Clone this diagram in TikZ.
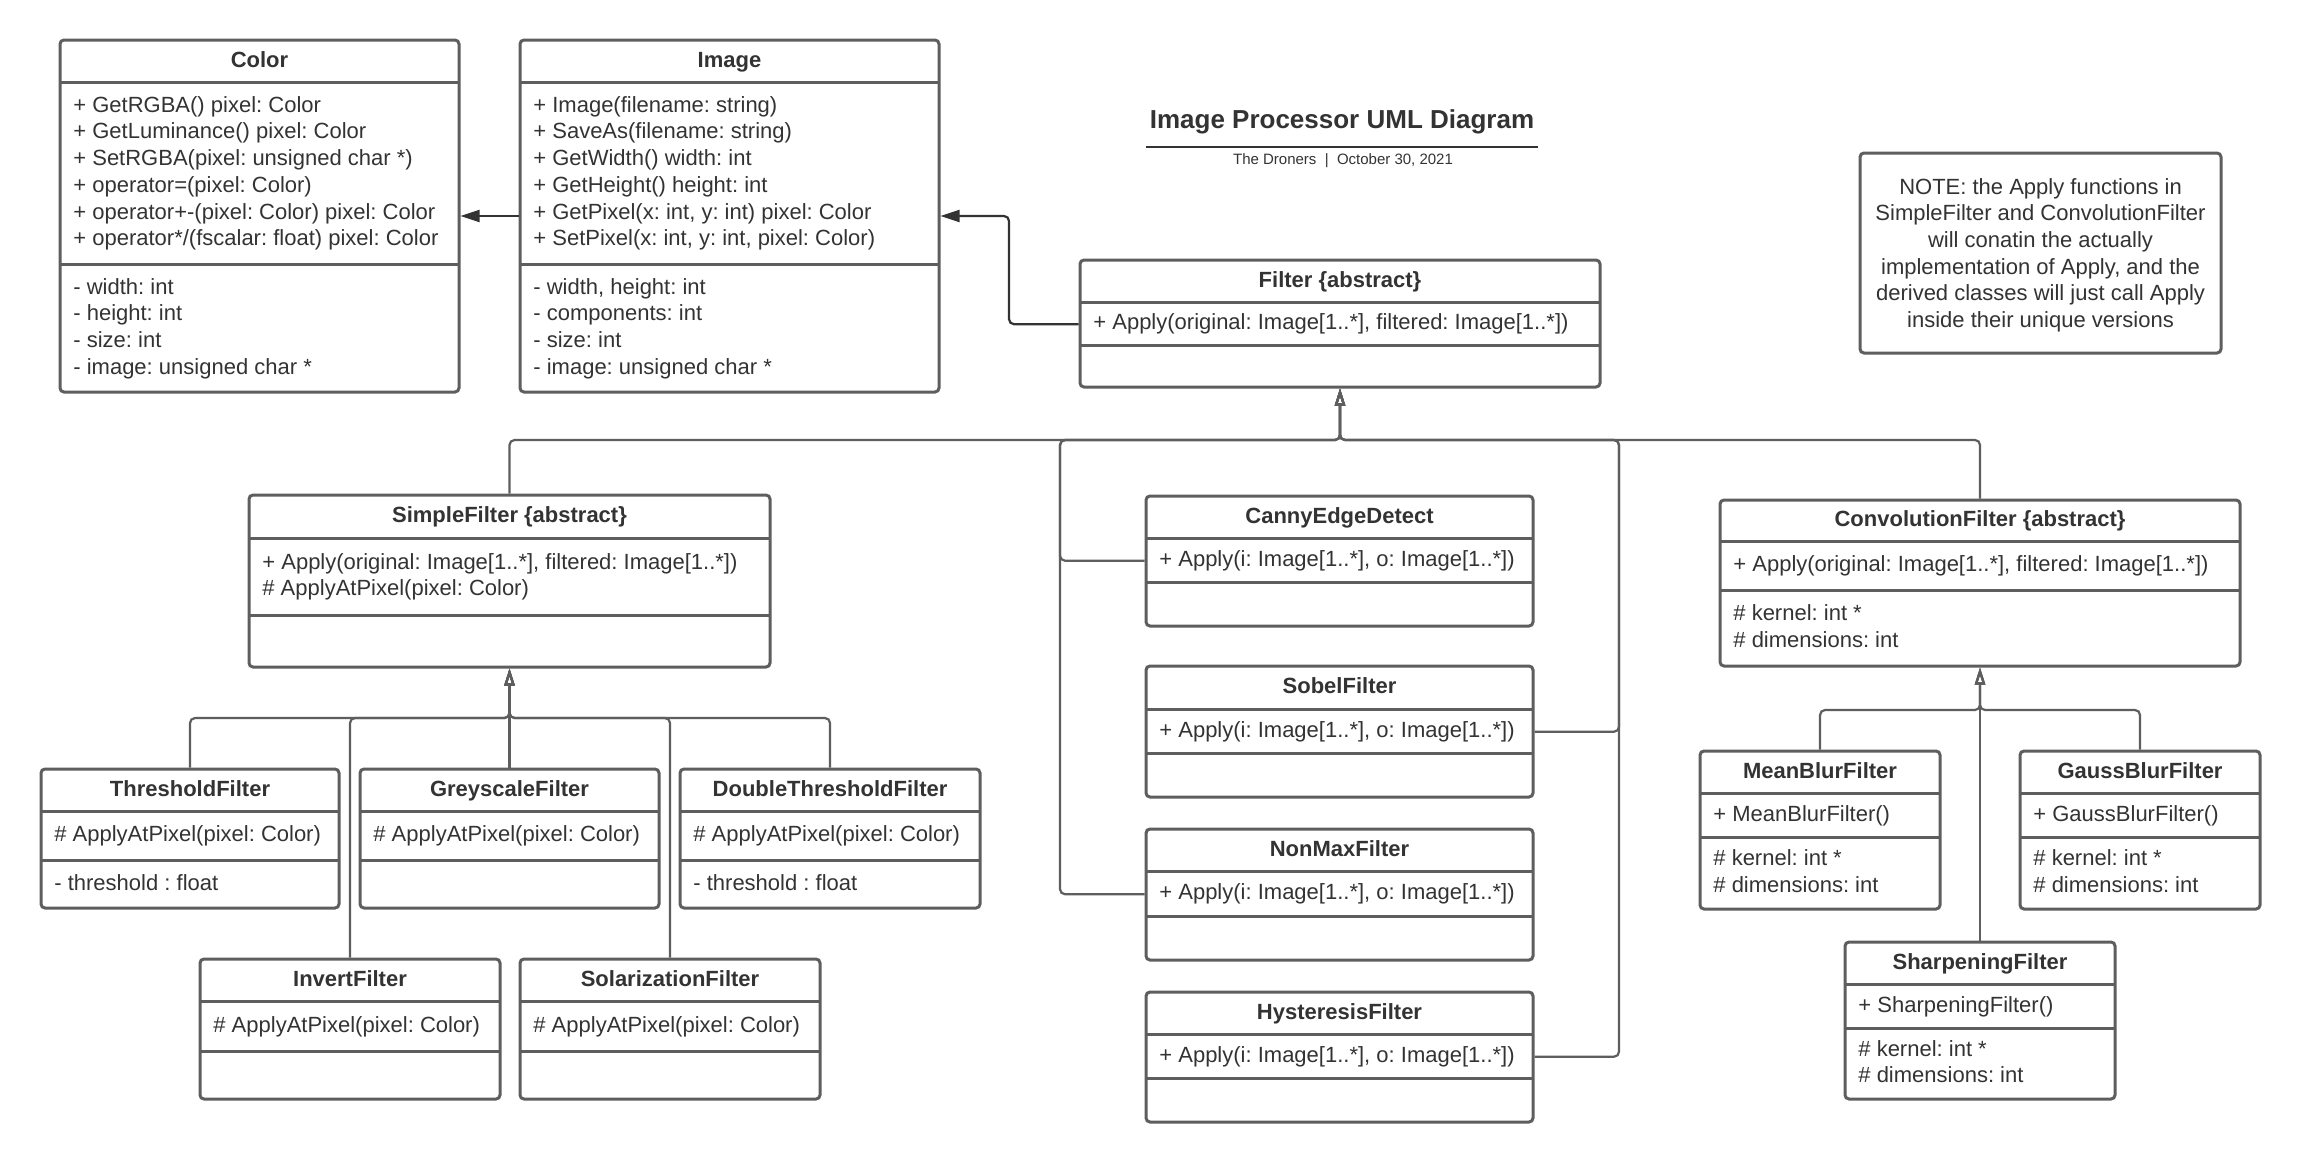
\documentclass[tikz,border=0pt]{standalone}
\usepackage{fontspec}
\setmainfont{Liberation Sans}
\usetikzlibrary{arrows.meta,fit}
\frenchspacing
\definecolor{linegray}{HTML}{5E5E5E}
\definecolor{textgray}{HTML}{333333}
\definecolor{darkline}{HTML}{333333}
\tikzset{
  classbox/.style={draw=linegray, line width=1.5pt, rounded corners=2pt, inner sep=0pt, fill=white},
  divider/.style={draw=linegray, line width=1.5pt},
  titletext/.style={font=\fontsize{11}{13.35}\selectfont\bfseries, text=textgray, inner sep=0pt, anchor=base},
  membtext/.style={font=\fontsize{11}{13.35}\selectfont, text=textgray, inner sep=0pt, align=left, anchor=base west},
  inh/.style={draw=linegray, line width=1.1pt, rounded corners=2.5pt, -{Triangle[open, length=8.5pt, width=5pt]}},
  assoc/.style={draw=darkline, line width=1.1pt, rounded corners=2.5pt, -{Triangle[length=9.5pt, width=6pt]}},
}
% #1 name, #2 x1, #3 y1, #4 x2, #5 y2, #6 divider1, #7 divider2, #8 title
\newcommand\umlclass[8]{%
  \node[classbox, fit={(#2,#3)(#4,#5)}] (#1) {};
  \draw[divider] (#2,#6) -- (#4,#6);
  \draw[divider] (#2,#7) -- (#4,#7);
  \node[titletext] (#1T) at ({(#2+#4)/2},{(#3+#6)/2+6}) {#8};
}
\begin{document}
\begin{tikzpicture}[x=0.5pt, y=-0.5pt]
\fill[white] (0,0) rectangle (2300,1162);
\useasboundingbox (0,0) rectangle (2300,1162);

% title
\node[font=\fontsize{13}{15}\selectfont\bfseries, text=textgray, inner sep=0pt, anchor=base] (title) at (1342,128) {Image Processor UML Diagram};
\draw[darkline, line width=1pt] (1146,147) -- (1538,147);
\node[font=\fontsize{7.5}{9}\selectfont, text=textgray, inner sep=0pt] (subtitle) at (1343,161) {The Droners~~|~~October 30, 2021};

% note (anchor = baseline of the last line)
\node[classbox, fit={(1860,153)(2221,353)}] (note) {};
\node[font=\fontsize{11}{13.35}\selectfont, text=textgray, inner sep=0pt, align=center, anchor=base] (noteT) at (2040.5,327.5) {NOTE: the Apply functions in\\SimpleFilter and ConvolutionFilter\\will conatin the actually\\implementation of Apply, and the\\derived classes will just call Apply\\inside their unique versions};

% Color
\umlclass{color}{60}{40}{459}{392}{82}{264}{Color}
\node[membtext] (colorM) at (73,245.75) {+ GetRGBA() pixel: Color\\+ GetLuminance() pixel: Color\\+ SetRGBA(pixel: unsigned char *)\\+ operator=(pixel: Color)\\+ operator+-(pixel: Color) pixel: Color\\+ operator*/(fscalar: float) pixel: Color};
\node[membtext] (colorA) at (73,374.1) {- width: int\\- height: int\\- size: int\\- image: unsigned char *};

% Image
\umlclass{image}{520}{40}{939}{392}{82}{264}{Image}
\node[membtext] (imageM) at (533,245.75) {+ Image(filename: string)\\+ SaveAs(filename: string)\\+ GetWidth() width: int\\+ GetHeight() height: int\\+ GetPixel(x: int, y: int) pixel: Color\\+ SetPixel(x: int, y: int, pixel: Color)};
\node[membtext] (imageA) at (533,374.1) {- width, height: int\\- components: int\\- size: int\\- image: unsigned char *};

% Filter
\umlclass{filter}{1080}{260}{1600}{387}{302}{345}{Filter \{abstract\}}
\node[membtext] (filterM) at (1093,329.5) {+ Apply(original: Image[1..*], filtered: Image[1..*])};

% SimpleFilter
\umlclass{simple}{249}{495}{770}{667}{538}{615}{SimpleFilter \{abstract\}}
\node[membtext] (simpleM) at (262,595.85) {+ Apply(original: Image[1..*], filtered: Image[1..*])\\\# ApplyAtPixel(pixel: Color)};

% Simple children
\umlclass{thresh}{41}{769}{339}{908}{811}{860}{ThresholdFilter}
\node[membtext] (threshM) at (54,841.5) {\# ApplyAtPixel(pixel: Color)};
\node[membtext] (threshA) at (54,890) {- threshold : float};

\umlclass{grey}{360}{769}{659}{908}{811}{860}{GreyscaleFilter}
\node[membtext] (greyM) at (373,841.5) {\# ApplyAtPixel(pixel: Color)};

\umlclass{dthresh}{680}{769}{980}{908}{811}{860}{DoubleThresholdFilter}
\node[membtext] (dthreshM) at (693,841.5) {\# ApplyAtPixel(pixel: Color)};
\node[membtext] (dthreshA) at (693,890) {- threshold : float};

\umlclass{invert}{200}{959}{500}{1099}{1001}{1051}{InvertFilter}
\node[membtext] (invertM) at (213,1032) {\# ApplyAtPixel(pixel: Color)};

\umlclass{solar}{520}{959}{820}{1099}{1001}{1051}{SolarizationFilter}
\node[membtext] (solarM) at (533,1032) {\# ApplyAtPixel(pixel: Color)};

% Edge detection classes
\umlclass{canny}{1146}{496}{1533}{626}{538}{582}{CannyEdgeDetect}
\node[membtext] (cannyM) at (1159,566) {+ Apply(i: Image[1..*], o: Image[1..*])};
\umlclass{sobel}{1146}{666}{1533}{797}{709}{753}{SobelFilter}
\node[membtext] (sobelM) at (1159,737) {+ Apply(i: Image[1..*], o: Image[1..*])};
\umlclass{nonmax}{1146}{829}{1533}{960}{871}{916}{NonMaxFilter}
\node[membtext] (nonmaxM) at (1159,899.5) {+ Apply(i: Image[1..*], o: Image[1..*])};
\umlclass{hyst}{1146}{992}{1533}{1122}{1034}{1078}{HysteresisFilter}
\node[membtext] (hystM) at (1159,1062) {+ Apply(i: Image[1..*], o: Image[1..*])};

% ConvolutionFilter
\umlclass{conv}{1720}{500}{2240}{666}{541}{590}{ConvolutionFilter \{abstract\}}
\node[membtext] (convM) at (1733,571.5) {+ Apply(original: Image[1..*], filtered: Image[1..*])};
\node[membtext] (convA) at (1733,647.35) {\# kernel: int *\\\# dimensions: int};

\umlclass{mean}{1700}{751}{1940}{909}{793}{837}{MeanBlurFilter}
\node[membtext] (meanM) at (1713,821) {+ MeanBlurFilter()};
\node[membtext] (meanA) at (1713,892.35) {\# kernel: int *\\\# dimensions: int};

\umlclass{gauss}{2020}{751}{2260}{909}{793}{837}{GaussBlurFilter}
\node[membtext] (gaussM) at (2033,821) {+ GaussBlurFilter()};
\node[membtext] (gaussA) at (2033,892.35) {\# kernel: int *\\\# dimensions: int};

\umlclass{sharp}{1845}{942}{2115}{1099}{984}{1028}{SharpeningFilter}
\node[membtext] (sharpM) at (1858,1012) {+ SharpeningFilter()};
\node[membtext] (sharpA) at (1858,1082.85) {\# kernel: int *\\\# dimensions: int};

% bus coordinates
\coordinate (fbus) at (1340,440);
\coordinate (lbus) at (1060,440);
\coordinate (rbus) at (1619,440);
\coordinate (sbus) at (509.5,718);
\coordinate (cbus) at (1980,710);
\coordinate (fbend) at (1009,216);

% associations
\draw[assoc] (image.west) -- (color.east);
\draw[assoc] (filter.west |- filterM.mid) -| (fbend) -- (image.east);

% inheritance to Filter
\draw[inh] (simple.north) |- (fbus) -- (filter.south);
\draw[inh] (conv.north) |- (fbus) -- (filter.south);
\draw[inh] (canny.west |- cannyM.mid) -| (lbus) -- (fbus) -- (filter.south);
\draw[inh] (nonmax.west |- nonmaxM.mid) -| (lbus) -- (fbus) -- (filter.south);
\draw[inh] (sobel.east |- sobelM.mid) -| (rbus) -- (fbus) -- (filter.south);
\draw[inh] (hyst.east |- hystM.mid) -| (rbus) -- (fbus) -- (filter.south);

% inheritance to SimpleFilter
\draw[inh] (thresh.north) |- (sbus) -- (simple.south);
\draw[inh] (dthresh.north) |- (sbus) -- (simple.south);
\draw[inh] (invert.north) |- (sbus) -- (simple.south);
\draw[inh] (solar.north) |- (sbus) -- (simple.south);
\draw[inh] (grey.north) -- (simple.south);

% inheritance to ConvolutionFilter
\draw[inh] (mean.north) |- (cbus) -- (conv.south);
\draw[inh] (gauss.north) |- (cbus) -- (conv.south);
\draw[inh] (sharp.north) -- (conv.south);
\end{tikzpicture}
\end{document}
